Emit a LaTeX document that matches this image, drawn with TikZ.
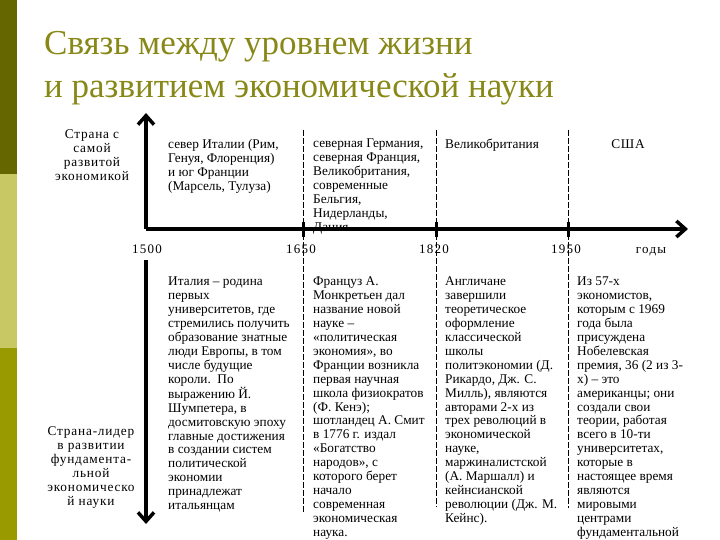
\documentclass[tikz,border=0pt]{standalone}
\usepackage{fontspec}
\setmainfont{Liberation Serif}
\usepackage{tikz}
\usetikzlibrary{positioning, arrows.meta}
\definecolor{titleolive}{RGB}{136,136,24}
\definecolor{bardark}{RGB}{102,102,0}
\definecolor{barlight}{RGB}{200,200,100}
\definecolor{barmid}{RGB}{153,153,0}
\tikzset{
  axisln/.style={line width=3.5pt, -{Straight Barb[length=9pt, width=16pt]}},
  era/.style={line width=1pt, dash pattern=on 6pt off 2pt},
  tick/.style={line width=3pt},
  ttl/.style={anchor=base west, inner sep=0pt, text=titleolive,
    font=\fontsize{35}{43}\selectfont},
  txt/.style={
    font=\fontsize{13.3}{13.9}\selectfont,
    anchor=north west, align=left, inner sep=0pt
  },
  side/.style={
    font=\fontsize{13.3}{14}\selectfont\addfontfeature{LetterSpace=6},
    anchor=north, align=center, inner sep=0pt
  },
  yr/.style={font=\fontsize{13}{14}\selectfont\addfontfeature{LetterSpace=10},
    anchor=base, inner sep=1pt},
}
\begin{document}
\begin{tikzpicture}[x=1pt, y=-1pt]
  \useasboundingbox (0,0) rectangle (720,540);
  % side bar
  \fill[bardark]  (0,0)   rectangle (17,174);
  \fill[barlight] (0,174) rectangle (17,348);
  \fill[barmid]   (0,348) rectangle (17,540);
  % title
  \node[ttl] (title1) at (44,55) {Связь между уровнем жизни};
  \node[ttl] (title2) at (44,98) {и развитием экономической науки};
  % axes
  \coordinate (origin) at (146,229);
  \coordinate (ytop)   at (146,113);
  \coordinate (ylow)   at (146,260);
  \coordinate (ybot)   at (146,524);
  \coordinate (xend)   at (688,229);
  \draw[axisln] (origin) -- (ytop);
  \draw[axisln] (ylow) -- (ybot);
  \draw[axisln] (origin) -- (xend);
  \node[yr] (y1500) at (147,253) {1500};
  \node[yr] (ygody) at (651,253) {годы};
  \foreach \yr/\cx/\ylo in {1650/303/513, 1820/436/507, 1950/568/508}{
    \coordinate (top\yr) at (\cx,130);
    \coordinate (bot\yr) at (\cx,\ylo);
    \draw[era] (top\yr) -- (bot\yr);
    \draw[tick] (\cx,222) -- (\cx,237);
    \node[yr] (y\yr) at (\cx-2,253) {\yr};
  }
  % upper half: leading countries
  \node[side] (lblup) at (92,129) {Страна с\\самой\\развитой\\экономикой};
  \node[txt] (ctyA) at (168,139)
    {север Италии (Рим,\\Генуя, Флоренция)\\и юг Франции\\(Марсель, Тулуза)};
  \node[txt] (ctyB) at (313,139)
    {северная Германия,\\северная Франция,\\Великобритания,\\современные\\Бельгия,\\Нидерланды,\\Дания};
  \node[txt] (ctyC) at (445,139) {Великобритания};
  \node[side] (ctyD) at (628,139) {США};
  % lower half: leaders in economic science
  \node[side] (lbldn) at (91,426)
    {Страна-лидер\\в развитии\\фундамента-\\льной\\экономическо\\й науки};
  \node[txt] (sciA) at (168,277)
    {Италия – родина\\первых\\университетов, где\\стремились получить\\образование знатные\\люди Европы, в том\\числе будущие\\короли.\ \ По\\выражению Й.\\Шумпетера, в\\досмитовскую эпоху\\главные достижения\\в создании систем\\политической\\экономии\\принадлежат\\итальянцам};
  \node[txt] (sciB) at (313,277)
    {Француз А.\\Монкретьен дал\\название новой\\науке –\\«политическая\\экономия», во\\Франции возникла\\первая научная\\школа физиократов\\(Ф. Кенэ);\\шотландец А. Смит\\в 1776 г. издал\\«Богатство\\народов», с\\которого берет\\начало\\современная\\экономическая\\наука.};
  \node[txt] (sciC) at (445,277)
    {Англичане\\завершили\\теоретическое\\оформление\\классической\\школы\\политэкономии (Д.\\Рикардо, Дж. С.\\Милль), являются\\авторами 2-х из\\трех революций в\\экономической\\науке,\\маржиналистской\\(А. Маршалл) и\\кейнсианской\\революции (Дж. М.\\Кейнс).};
  \node[txt] (sciD) at (577,277)
    {Из 57-х\\экономистов,\\которым с 1969\\года была\\присуждена\\Нобелевская\\премия, 36 (2 из 3-\\х) – это\\американцы; они\\создали свои\\теории, работая\\всего в 10-ти\\университетах,\\которые в\\настоящее время\\являются\\мировыми\\центрами\\фундаментальной};
\end{tikzpicture}
\end{document}
